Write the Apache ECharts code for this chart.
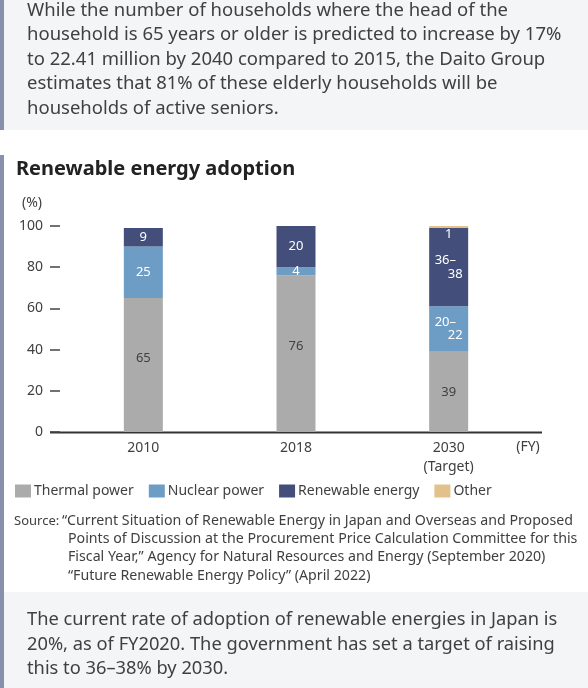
<!DOCTYPE html>
<html>
<head>
<meta charset="utf-8">
<script src="https://cdn.jsdelivr.net/npm/echarts@6/dist/echarts.min.js"></script>
<style>
  html, body { margin: 0; padding: 0; background: #ffffff; }
  #chart { width: 588px; height: 688px; }
</style>
</head>
<body>
<div id="chart"></div>
<script>
// ---- data ----
const categories = ['2010', '2018', '2030\n(Target)'];
const seriesNames = ['Thermal power', 'Nuclear power', 'Renewable energy', 'Other'];
const thermal = [65, 76, 39];
const nuclear = [25, 4, 22];
const renewable = [9, 20, 38];
const other = [0, 0, 1];
const thermalLabels = ['65', '76', '39'];
const nuclearLabels = ['25', '4', '20–|22'];
const renewableLabels = ['9', '20', '36–|38'];
const otherLabels = ['', '', '1'];
const yTicks = [0, 20, 40, 60, 80, 100];

const introText = 'While the number of households where the head of the\nhousehold is 65 years or older is predicted to increase by 17%\nto 22.41 million by 2040 compared to 2015, the Daito Group\nestimates that 81% of these elderly households will be\nhouseholds of active seniors.';
const titleText = 'Renewable energy adoption';
const sourceLabel = 'Source:';
const sourceFirst = '“Current Situation of Renewable Energy in Japan and Overseas and Proposed';
const sourceRest = 'Points of Discussion at the Procurement Price Calculation Committee for this\nFiscal Year,” Agency for Natural Resources and Energy (September 2020)\n“Future Renewable Energy Policy” (April 2022)';
const outroText = 'The current rate of adoption of renewable energies in Japan is\n20%, as of FY2020. The government has set a target of raising\nthis to 36–38% by 2030.';

// ---- styles ----
const FONT = '"Noto Sans", "Open Sans", sans-serif';
const TEXT = '#404040';
const colors = ['#ababab', '#6d9cc4', '#434f7a', '#e2c18a'];
const thermalLabelShift = [-7, -7, 0];

function fmt(labels) {
  return function (p) {
    const t = labels[p.dataIndex];
    if (t.indexOf('|') >= 0) {
      const parts = t.split('|');
      return '{a|' + parts[0] + '}\n{b|' + parts[1] + '}';
    }
    return t;
  };
}
const richSplit = {
  a: { align: 'left', color: '#fff', fontSize: 13, fontFamily: FONT, lineHeight: 13.5 },
  b: { align: 'right', color: '#fff', fontSize: 13, fontFamily: FONT, lineHeight: 13.5 }
};

const thermalData = thermal.map(function (v, i) {
  return { value: v, label: { offset: [0, thermalLabelShift[i]] } };
});

const chart = echarts.init(document.getElementById('chart'), null, { renderer: 'canvas' });
chart.setOption({
  animation: false,
  backgroundColor: '#ffffff',
  textStyle: { fontFamily: FONT },
  grid: { left: 67, right: 63, top: 226, bottom: 256, containLabel: false },
  legend: {
    left: 15, top: 484, padding: 0,
    itemWidth: 16, itemHeight: 13, itemGap: 15,
    icon: 'rect',
    textStyle: { color: TEXT, fontSize: 14, fontFamily: FONT, padding: [0, 0, 0, -2] },
    data: seriesNames
  },
  xAxis: {
    type: 'category',
    data: categories,
    axisLine: { show: false },
    axisTick: { show: false },
    axisLabel: { color: TEXT, fontSize: 14, fontFamily: FONT, margin: 7, lineHeight: 19 }
  },
  yAxis: {
    type: 'value',
    min: 0, max: 100, interval: 20,
    offset: 7,
    axisLine: { show: false },
    axisTick: { show: true, length: 10, lineStyle: { color: '#444', width: 1.5 } },
    splitLine: { show: false },
    axisLabel: { color: TEXT, fontSize: 14, fontFamily: FONT, margin: 17,
      customValues: yTicks }
  },
  series: [
    { name: seriesNames[0], type: 'bar', stack: 'total', barWidth: 39, data: thermalData,
      itemStyle: { color: colors[0] },
      label: { show: true, position: 'inside', color: TEXT, fontSize: 13, fontFamily: FONT, formatter: fmt(thermalLabels) } },
    { name: seriesNames[1], type: 'bar', stack: 'total', barWidth: 39, data: nuclear,
      itemStyle: { color: colors[1] },
      label: { show: true, position: 'inside', color: '#fff', fontSize: 13, fontFamily: FONT, width: 28, lineHeight: 13.5,
        formatter: fmt(nuclearLabels), rich: richSplit } },
    { name: seriesNames[2], type: 'bar', stack: 'total', barWidth: 39, data: renewable,
      itemStyle: { color: colors[2] },
      label: { show: true, position: 'inside', color: '#fff', fontSize: 13, fontFamily: FONT, width: 28, lineHeight: 13.5,
        formatter: fmt(renewableLabels), rich: richSplit } },
    { name: seriesNames[3], type: 'bar', stack: 'total', barWidth: 39, data: other,
      itemStyle: { color: colors[3] },
      label: { show: true, position: 'bottom', distance: 0, color: '#fff', fontSize: 13, fontFamily: FONT,
        formatter: fmt(otherLabels) } }
  ],
  graphic: [
    { type: 'rect', shape: { x: 0, y: 0, width: 588, height: 130 }, style: { fill: '#f4f5f7' }, silent: true },
    { type: 'rect', shape: { x: 0, y: 0, width: 4, height: 130 }, style: { fill: '#8791ad' }, silent: true },
    { type: 'rect', shape: { x: 0, y: 592, width: 588, height: 96 }, style: { fill: '#f4f5f7' }, silent: true },
    { type: 'rect', shape: { x: 0, y: 155, width: 4, height: 533 }, style: { fill: '#8791ad' }, silent: true },
    { type: 'text', x: 27, y: -2, style: { text: introText, font: '18.5px ' + FONT, lineHeight: 24.5, fill: TEXT, verticalAlign: 'top' } },
    { type: 'text', x: 16, y: 169, style: { text: titleText, font: 'bold 20px ' + FONT, fill: '#222', verticalAlign: 'middle' } },
    { type: 'text', x: 22, y: 203, style: { text: '(%)', font: '14px ' + FONT, fill: TEXT, verticalAlign: 'middle' } },
    { type: 'text', x: 528, y: 447, style: { text: '(FY)', font: '14px ' + FONT, fill: TEXT, align: 'center', verticalAlign: 'middle' } },
    { type: 'line', shape: { x1: 50, y1: 432.5, x2: 542, y2: 432.5 }, style: { stroke: '#333', lineWidth: 2 }, silent: true },
    { type: 'text', x: 14, y: 521, style: { text: sourceLabel, font: '13px ' + FONT, fill: TEXT, verticalAlign: 'middle' } },
    { type: 'text', x: 62, y: 521, style: { text: sourceFirst, font: '14.2px ' + FONT, fill: TEXT, verticalAlign: 'middle' } },
    { type: 'text', x: 68, y: 530, style: { text: sourceRest, font: '14.2px ' + FONT, lineHeight: 18.3, fill: TEXT, verticalAlign: 'top' } },
    { type: 'text', x: 27, y: 607.75, style: { text: outroText, font: '18.3px ' + FONT, lineHeight: 24.5, fill: TEXT, verticalAlign: 'top' } }
  ]
});
</script>
</body>
</html>
